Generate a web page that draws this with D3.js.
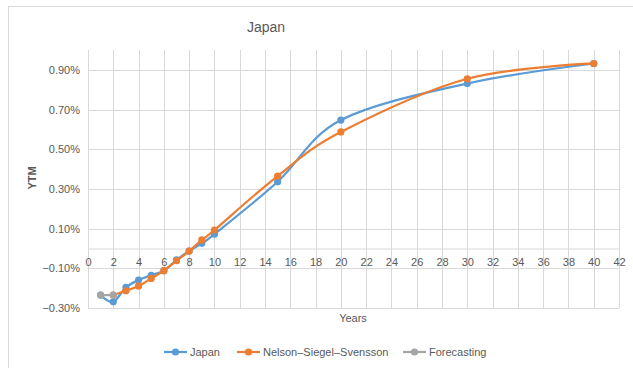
<!DOCTYPE html>
<html>
<head>
<meta charset="utf-8">
<script src="https://cdn.jsdelivr.net/npm/d3@7"></script>
<style>
    body { margin: 0; background: #fff; }
    #chart { width: 633px; height: 368px; }
    text { font-family: "Liberation Sans", Arial, sans-serif; fill: #595959; }
</style>
</head>
<body>
<div id="chart"></div>
<script>
/* data (yields in percent) */
const japanYears = [1, 2, 3, 4, 5, 6, 7, 8, 9, 10, 15, 20, 30, 40];
const japanYtm = [-0.235, -0.269, -0.196, -0.159, -0.135, -0.112, -0.058, -0.013, 0.026, 0.072, 0.336, 0.647, 0.831, 0.932];

const nssYears = [2, 3, 4, 5, 6, 7, 8, 9, 10, 15, 20, 30, 40];
const nssYtm = [-0.235, -0.213, -0.189, -0.151, -0.112, -0.062, -0.013, 0.043, 0.093, 0.365, 0.587, 0.855, 0.932];

const forecastYears = [1, 2];
const forecastYtm = [-0.235, -0.235];

const xTicks = d3.range(0, 43, 2);
const yTicks = [-0.3, -0.1, 0.1, 0.3, 0.5, 0.7, 0.9];

const series = [
    {name: "Japan", x: japanYears, y: japanYtm, color: "#5B9BD5", smooth: true},
    {name: "Nelson\u2013Siegel\u2013Svensson", x: nssYears, y: nssYtm, color: "#ED7D31", smooth: true},
    {name: "Forecasting", x: forecastYears, y: forecastYtm, color: "#A5A5A5", smooth: false}
];

const width = 633, height = 368;
const margin = {top: 50, left: 88, right: 14, bottom: 60};

const svg = d3.select("#chart").append("svg")
    .attr("width", width)
    .attr("height", height);

// outer chart border
svg.append("rect")
    .attr("x", 8.5).attr("y", 6.5)
    .attr("width", 640).attr("height", 400)
    .attr("fill", "none")
    .attr("stroke", "#D9D9D9");

const xScale = d3.scaleLinear().domain([0, 42]).range([margin.left, width - margin.right]);
const yScale = d3.scaleLinear().domain([-0.3, 1.0]).range([height - margin.bottom, margin.top]);

// grid
svg.append("g").selectAll("line")
    .data(xTicks).join("line")
    .attr("x1", d => Math.round(xScale(d)) + 0.5)
    .attr("x2", d => Math.round(xScale(d)) + 0.5)
    .attr("y1", yScale(1.0))
    .attr("y2", yScale(-0.3))
    .attr("stroke", "#D9D9D9");

svg.append("g").selectAll("line")
    .data(yTicks).join("line")
    .attr("x1", xScale(0))
    .attr("x2", xScale(42))
    .attr("y1", d => Math.round(yScale(d)) + 0.5)
    .attr("y2", d => Math.round(yScale(d)) + 0.5)
    .attr("stroke", "#D9D9D9");

// zero axis with tick labels below it
const xAxis = svg.append("g")
    .attr("transform", `translate(0,${Math.round(yScale(0)) + 0.5})`)
    .call(d3.axisBottom(xScale).tickValues(xTicks).tickSize(0).tickPadding(10));
xAxis.select(".domain").attr("stroke", "#D9D9D9");
xAxis.selectAll("text").style("font-size", "11px").attr("fill", "#595959");

const yAxis = svg.append("g")
    .attr("transform", `translate(${margin.left - 8},0)`)
    .call(d3.axisLeft(yScale).tickValues(yTicks).tickSize(0).tickPadding(0)
        .tickFormat(d => d3.format(".2f")(d) + "%"));
yAxis.select(".domain").remove();
yAxis.selectAll("text").style("font-size", "11px").attr("fill", "#595959");

// lines and markers
series.forEach(s => {
    const pts = s.x.map((x, i) => [x, s.y[i]]);
    const line = d3.line()
        .x(d => xScale(d[0]))
        .y(d => yScale(d[1]))
        .curve(s.smooth ? d3.curveCardinal.tension(0) : d3.curveLinear);
    svg.append("path")
        .datum(pts)
        .attr("d", line)
        .attr("fill", "none")
        .attr("stroke", s.color)
        .attr("stroke-width", 2.25);
    svg.append("g").selectAll("circle")
        .data(pts).join("circle")
        .attr("cx", d => xScale(d[0]))
        .attr("cy", d => yScale(d[1]))
        .attr("r", 3.6)
        .attr("fill", s.color);
});

// titles
svg.append("text")
    .attr("x", 266).attr("y", 32)
    .attr("text-anchor", "middle")
    .style("font-size", "14px")
    .text("Japan");

svg.append("text")
    .attr("transform", "rotate(-90)")
    .attr("x", -178).attr("y", 36)
    .attr("text-anchor", "middle")
    .style("font-size", "11px")
    .style("font-weight", "bold")
    .text("YTM");

svg.append("text")
    .attr("x", 353).attr("y", 322)
    .attr("text-anchor", "middle")
    .style("font-size", "11px")
    .text("Years");

// legend
const legendX = [164, 237, 403];
const legend = svg.append("g");
series.forEach((s, i) => {
    const g = legend.append("g").attr("transform", `translate(${legendX[i]},352)`);
    g.append("line").attr("x1", 0).attr("x2", 23)
        .attr("stroke", s.color).attr("stroke-width", 2.25);
    g.append("circle").attr("cx", 11.5).attr("r", 3.6).attr("fill", s.color);
    g.append("text").attr("x", 26).attr("y", 4)
        .style("font-size", "11px")
        .text(s.name);
});
</script>
</body>
</html>
